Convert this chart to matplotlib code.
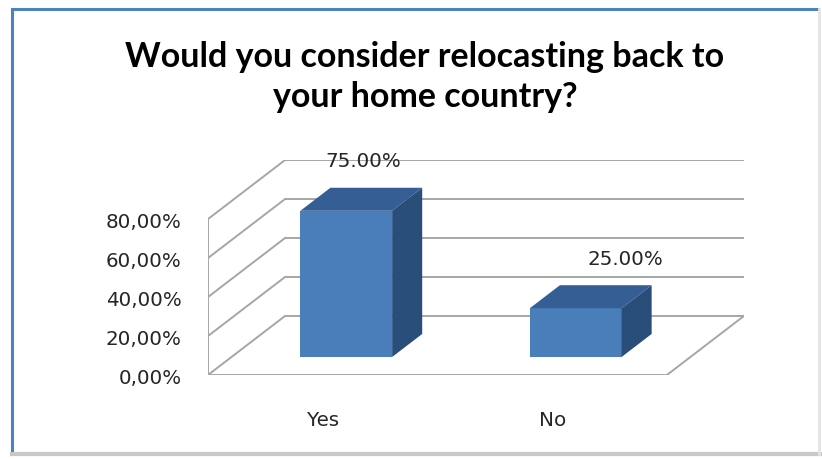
"""
Plot 3-D style bar chart of survey answers on relocating back home
"""

#---------------------------------------------------------------------------------------------------
# Import Modules
#---------------------------------------------------------------------------------------------------

import matplotlib.pyplot as plt
from matplotlib.patches import Polygon
from matplotlib.lines import Line2D
import numpy as np


#---------------------------------------------------------------------------------------------------
# Input Parameters
#---------------------------------------------------------------------------------------------------

title = 'Would you consider relocasting back to\nyour home country?'
categories = ['Yes', 'No']
values = [75.0, 25.0]
value_labels = ['75.00%', '25.00%']
yticks = [0, 20, 40, 60, 80]
ytick_labels = ['0,00%', '20,00%', '40,00%', '60,00%', '80,00%']

# 3-D look (data units): depth offset of the back wall
depth_dx = 0.336
depth_dy = 30.3
bar_width = 0.4
bar_front = 0.305   # fraction of depth where bar front face sits
bar_depth = 0.39    # fraction of depth taken by the bar

c_front = '#4A7EBB'
c_top = '#355F94'
c_side = '#294E7A'
c_grid = '#A6A6A6'
c_text = '#262626'
labelsize = 14.3

out_fname = 'out.png'


#---------------------------------------------------------------------------------------------------
# Main Program
#---------------------------------------------------------------------------------------------------

plt.rcParams['font.family'] = ['DejaVu Sans']

fig = plt.figure(figsize=(8.22, 4.60), dpi=100)
W, H = 822., 460.
# axes spans the front-left plane corner to the back-right wall corner
ax = fig.add_axes([208/W, 1 - 376/H, (744 - 208)/W, (376 - 161)/H])
ax.set_xlim(-0.5, len(categories) - 0.5 + depth_dx)
ax.set_ylim(0, yticks[-1] + depth_dy)

x0, x1 = -0.5, len(categories) - 0.5

# Back wall gridlines and left side wall
for v in yticks:
    ax.plot([x0 + depth_dx, x1 + depth_dx], [v + depth_dy, v + depth_dy], c=c_grid, lw=1.4,
            solid_capstyle='butt', zorder=1)
    ax.plot([x0, x0 + depth_dx], [v, v + depth_dy], c=c_grid, lw=1.4, zorder=1)
ax.plot([x0, x0], [0, yticks[-1]], c=c_grid, lw=1.4, zorder=1)

# Floor
ax.plot([x0, x1, x1 + depth_dx], [0, 0, depth_dy], c=c_grid, lw=1.4, zorder=1)

# Bars
xpos = np.arange(len(categories))
fx = bar_front * depth_dx
fy = bar_front * depth_dy
ddx = bar_depth * depth_dx
ddy = bar_depth * depth_dy
ax.bar(xpos + fx, values, width=bar_width, bottom=fy, color=c_front, zorder=3)
for i, v in enumerate(values):
    left = xpos[i] + fx - bar_width / 2
    right = xpos[i] + fx + bar_width / 2
    top = v + fy
    ax.add_patch(Polygon([[left, top], [right, top], [right + ddx, top + ddy], [left + ddx, top + ddy]],
                         closed=True, fc=c_top, ec='none', zorder=3))
    ax.add_patch(Polygon([[right, fy], [right + ddx, fy + ddy], [right + ddx, top + ddy], [right, top]],
                         closed=True, fc=c_side, ec='none', zorder=3))

# Data labels
label_dx = [2, 35]
for i, v in enumerate(values):
    xm = xpos[i] + fx + ddx / 2
    ax.annotate(value_labels[i], xy=(xm, v + fy + ddy), xytext=(label_dx[i] * 0.72, 19.5),
                textcoords='offset points', ha='center', va='center', fontsize=labelsize,
                color=c_text, zorder=4)

# Axes ticks
ax.set_yticks(yticks)
ax.set_yticklabels(ytick_labels, fontsize=labelsize, color=c_text)
ax.set_xticks(xpos)
ax.set_xticklabels(categories, fontsize=labelsize, color=c_text)
ax.tick_params(axis='y', length=0, pad=19)
ax.tick_params(axis='x', length=0, pad=25)
for s in ax.spines.values():
    s.set_visible(False)

# Title
fig.text(425/W, 1 - 77/H, title, ha='center', va='center', fontsize=24.5, fontweight='bold',
         family=['Lato', 'DejaVu Sans'], linespacing=1.32)

# Chart frame
fig.add_artist(Line2D([12/W, 12/W], [1 - 10/H, 1 - 455/H], color='#4F81BD', lw=2.2))
fig.add_artist(Line2D([12/W, 818/W], [1 - 10/H, 1 - 10/H], color='#4F81BD', lw=2.2))
fig.add_artist(Line2D([12/W, 820/W], [1 - 455/H, 1 - 455/H], color='#C8C8C8', lw=3))
fig.add_artist(Line2D([819/W, 819/W], [1 - 10/H, 1 - 455/H], color='#E4E4E4', lw=2))

plt.savefig(out_fname, dpi=100)
